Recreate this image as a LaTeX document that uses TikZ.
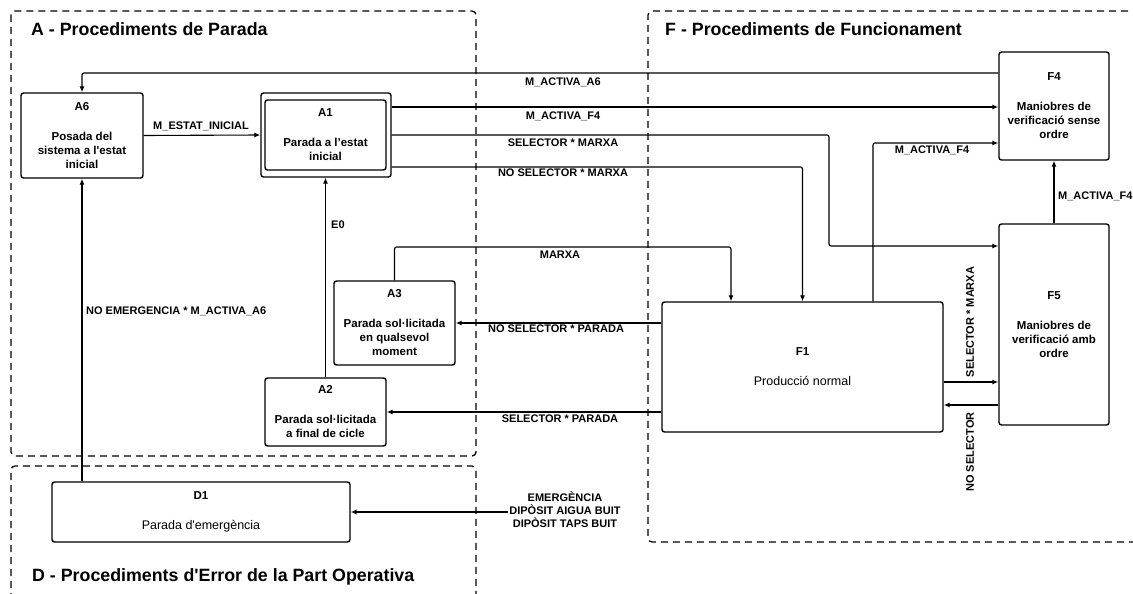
\documentclass[tikz,border=0pt]{standalone}
\usepackage{fontspec}
\newfontfamily\lsans{Liberation Sans}
\usetikzlibrary{arrows.meta}
\begin{document}
\begin{tikzpicture}[x=1pt,y=-1pt,
  box/.style={draw, line width=1.4pt, rounded corners=2.5pt, align=center, inner sep=0pt, fill=white,
    font=\lsans\fontsize{11.5}{14}\selectfont\bfseries},
  reg/.style={font=\lsans\fontsize{12.5}{14}\selectfont},
  lbl/.style={font=\lsans\fontsize{11}{13}\selectfont\bfseries, inner sep=1pt},
  arr/.style={line width=1.1pt, rounded corners=2pt, -{Latex[length=6pt,width=5pt]}},
  frame/.style={dash pattern=on 7pt off 5pt, line width=1.3pt, rounded corners=4pt},
  title/.style={font=\lsans\fontsize{17.8}{20}\selectfont\bfseries, anchor=west, inner sep=0pt}]
\useasboundingbox (0,0) rectangle (1133,594);

% frames
\draw[frame] (11,11) rectangle (476,456);
\draw[frame] (1140,11) -- (648,11) -- (648,542) -- (1140,542);
\draw[frame] (11,600) -- (11,466) -- (476,466) -- (476,600);
\node[title] (tA) at (31,29) {A - Procediments de Parada};
\node[title] (tF) at (665,29) {F - Procediments de Funcionament};
\node[title] (tD) at (32,577) {D - Procediments d'Error de la Part Operativa};

% nodes
\node[box, minimum width=122pt, minimum height=85pt] (A6) at (82,135.5) {A6\\[16pt]Posada del\\sistema a l'estat\\inicial};
\node[box, minimum width=130pt, minimum height=84pt] (A1) at (326,135) {};
\node[box, minimum width=121pt, minimum height=70pt] (A1i) at (325.5,135) {A1\\[16pt]Parada a l’estat\\inicial};
\node[box, minimum width=121pt, minimum height=84pt] (A3) at (394.5,323) {A3\\[16pt]Parada sol·licitada\\en qualsevol\\moment};
\node[box, minimum width=121pt, minimum height=68pt] (A2) at (325.5,412) {A2\\[16pt]Parada sol·licitada\\a final de cicle};
\node[box, minimum width=281pt, minimum height=130pt] (F1) at (802.5,367) {F1\\[16pt]\mdseries\fontsize{12.5}{14}\selectfont Producció normal};
\node[box, minimum width=110pt, minimum height=108pt] (F4) at (1054,106) {F4\\[16pt]Maniobres de\\verificació sense\\ordre};
\node[box, minimum width=110pt, minimum height=201pt] (F5) at (1054,324.5) {F5\\[16pt]Maniobres de\\verificació amb\\ordre};
\node[box, minimum width=298pt, minimum height=60pt] (D1) at (201,512) {D1\\[16pt]\mdseries\fontsize{12.5}{14}\selectfont Parada d'emergència};

% corner coordinates
\coordinate (k1) at (829,246);
\coordinate (k2) at (731,247);
\coordinate (k3) at (873,143);

% connectors
\draw[arr] ([yshift=33pt]F4.west) -| (A6.north);
\draw[arr] (A6.east) -- (A1.west);
\draw[arr] ([yshift=28pt]A1.east) -- ([yshift=28pt]A1.east -| F4.west);
\draw[arr] (A1.east) -| (k1) -- (k1 -| F5.west);
\draw[arr] ([yshift=-32pt]A1.east) -| (F1.north);
\draw[arr] (A3.north) |- (k2) -- (k2 |- F1.north);
\draw[arr] (F1.west |- A3.east) -- (A3.east);
\draw[arr] (F1.west |- A2.east) -- (A2.east);
\draw[arr] (A2.north) -- (A2.north |- A1.south);
\draw[arr] (D1.north -| A6.south) -- (A6.south);
\draw[arr] (k3 |- F1.north) |- (k3 -| F4.west);
\draw[arr] (F5.north) -- (F4.south);
\draw[arr] ([yshift=-15pt]F1.east) -- ([yshift=-15pt]F1.east -| F5.west);
\draw[arr] ([yshift=-38pt]F1.east -| F5.west) -- ([yshift=-38pt]F1.east);

% labels
\node[lbl] (lA6) at (563,82) {M\_ACTIVA\_A6};
\node[lbl] (lEI) at (201,126) {M\_ESTAT\_INICIAL};
\node[lbl] (lF4a) at (563,116) {M\_ACTIVA\_F4};
\node[lbl] (lSM) at (563,143) {SELECTOR * MARXA};
\node[lbl] (lNSM) at (563,173) {NO SELECTOR * MARXA};
\node[lbl] (lM) at (560,255) {MARXA};
\node[lbl] (lNSP) at (556,329) {NO SELECTOR * PARADA};
\node[lbl] (lSP) at (560,419) {SELECTOR * PARADA};
\node[lbl, anchor=west] (lE0) at (330,225) {E0};
\node[lbl, anchor=west] (lNE) at (85,311) {NO EMERGENCIA * M\_ACTIVA\_A6};
\node[lbl] (lF4b) at (932,150) {M\_ACTIVA\_F4};
\node[lbl, anchor=west] (lF4c) at (1057,196) {M\_ACTIVA\_F4};
\node[lbl, rotate=90] (lSM2) at (970,322) {SELECTOR * MARXA};
\node[lbl, rotate=90] (lNS) at (970,452) {NO SELECTOR};
\node[lbl, align=center] (em) at (565,510) {EMERGÈNCIA\\DIPÒSIT AIGUA BUIT\\DIPÒSIT TAPS BUIT};
\draw[arr] (em.west |- D1.east) -- (D1.east);
\end{tikzpicture}
\end{document}
